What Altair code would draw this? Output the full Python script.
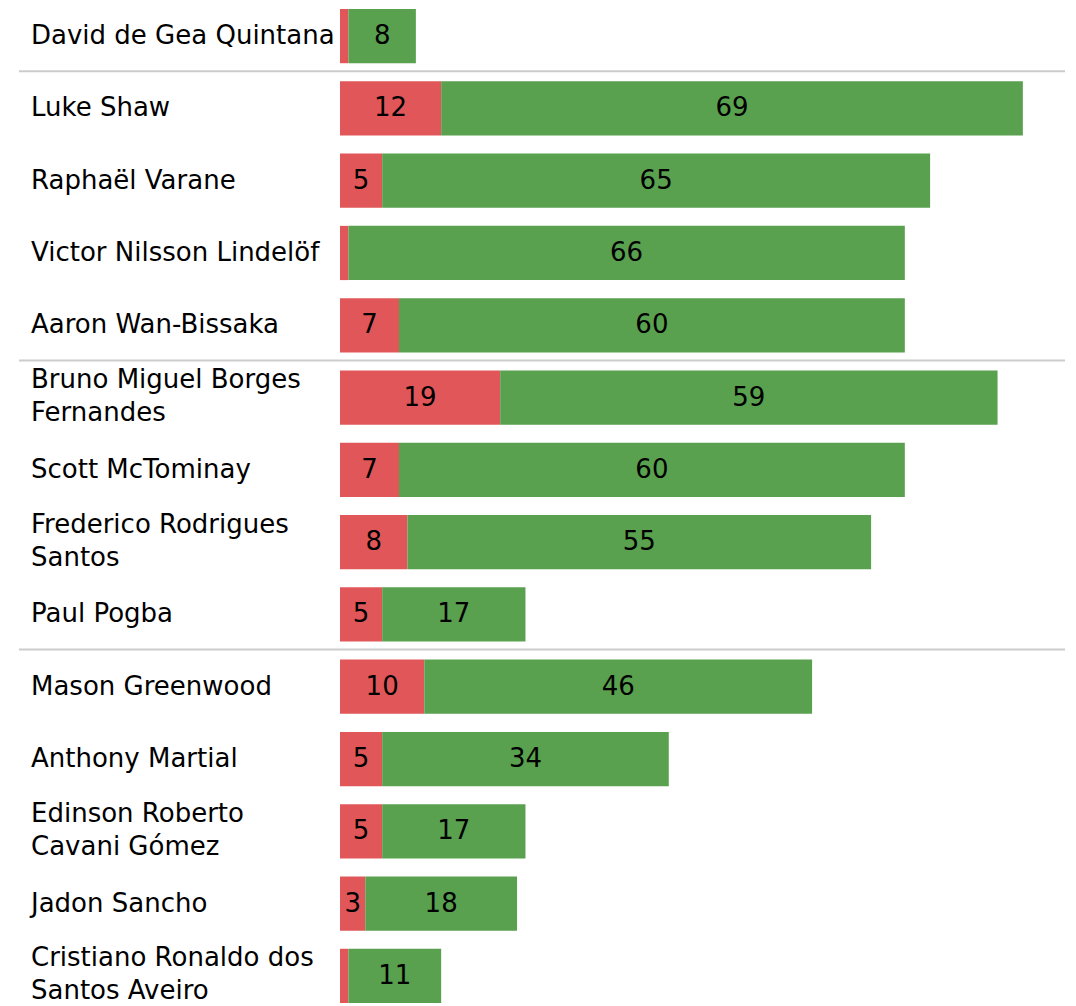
import altair as alt
import pandas as pd

players = [
    "David de Gea Quintana",
    "Luke Shaw",
    "Raphaël Varane",
    "Victor Nilsson Lindelöf",
    "Aaron Wan-Bissaka",
    "Bruno Miguel Borges|Fernandes",
    "Scott McTominay",
    "Frederico Rodrigues|Santos",
    "Paul Pogba",
    "Mason Greenwood",
    "Anthony Martial",
    "Edinson Roberto|Cavani Gómez",
    "Jadon Sancho",
    "Cristiano Ronaldo dos|Santos Aveiro",
]
groups = ["GK", "DEF", "DEF", "DEF", "DEF", "MID", "MID", "MID", "MID",
          "FWD", "FWD", "FWD", "FWD", "FWD"]
red_values = [1, 12, 5, 1, 7, 19, 7, 8, 5, 10, 5, 5, 3, 1]
green_values = [8, 69, 65, 66, 60, 59, 60, 55, 17, 46, 34, 17, 18, 11]

rows = []
for i, p in enumerate(players):
    rows.append({"player": p, "kind": "red", "order": 0, "value": red_values[i]})
    rows.append({"player": p, "kind": "green", "order": 1, "value": green_values[i]})
df = pd.DataFrame(rows)

# name lines: each line of each name, with its line index and line count
name_rows = []
for p in players:
    parts = p.split("|")
    for j, part in enumerate(parts):
        name_rows.append({"player": p, "line": part, "idx": j, "n": len(parts)})
names = pd.DataFrame(name_rows)

sep = pd.DataFrame({"player": [players[i] for i in range(1, len(players))
                               if groups[i] != groups[i - 1]]})

FONT = "DejaVu Sans"
FS = 26
LH = 33

y_scale = alt.Scale(domain=players, paddingInner=0.25, paddingOuter=0)
y_enc = alt.Y("player:N", sort=players, scale=y_scale, axis=None)
x_scale = alt.Scale(domain=[0, 86], nice=False)

bars = alt.Chart(df).transform_stack(
    stack="value", groupby=["player"], as_=["x0", "x1"],
    sort=[alt.SortField("order", order="ascending")],
).mark_bar().encode(
    y=y_enc,
    x=alt.X("x0:Q", scale=x_scale, axis=None),
    x2="x1:Q",
    color=alt.Color("kind:N",
                    scale=alt.Scale(domain=["red", "green"],
                                    range=["#e15759", "#59a14f"]),
                    legend=None),
)

labels = alt.Chart(df).transform_stack(
    stack="value", groupby=["player"], as_=["x0", "x1"],
    sort=[alt.SortField("order", order="ascending")],
).transform_filter("datum.value > 1").transform_calculate(
    mid="(datum.x0 + datum.x1) / 2"
).mark_text(font=FONT, fontSize=FS, color="#000", baseline="middle",
            align="center").encode(
    y=alt.Y("player:N", sort=players),
    x=alt.X("mid:Q", scale=x_scale),
    text="value:Q",
)

def name_layer(n, idx, dy):
    return alt.Chart(names).transform_filter(
        f"datum.n == {n} && datum.idx == {idx}"
    ).mark_text(font=FONT, fontSize=FS, color="#000", baseline="middle",
                align="left", dy=dy).encode(
        y=alt.Y("player:N", sort=players),
        x=alt.value(-309),
        text="line:N",
    )

name1 = name_layer(1, 0, 0)
name2a = name_layer(2, 0, -LH / 2 - 1)
name2b = name_layer(2, 1, LH / 2 - 1)

rules = alt.Chart(sep).mark_rule(color="#cccccc", strokeWidth=2, yOffset=-10).encode(
    y=alt.Y("player:N", sort=players, bandPosition=0),
    x=alt.value(-321),
    x2=alt.value(725),
)

chart = alt.layer(bars, labels, name1, name2a, name2b, rules).properties(
    width=725, height=994,
    padding={"left": 10, "top": 0, "right": 0, "bottom": 0},
).configure_view(stroke=None)

chart.save("out.html", embed_options={"renderer": "svg", "actions": False})
